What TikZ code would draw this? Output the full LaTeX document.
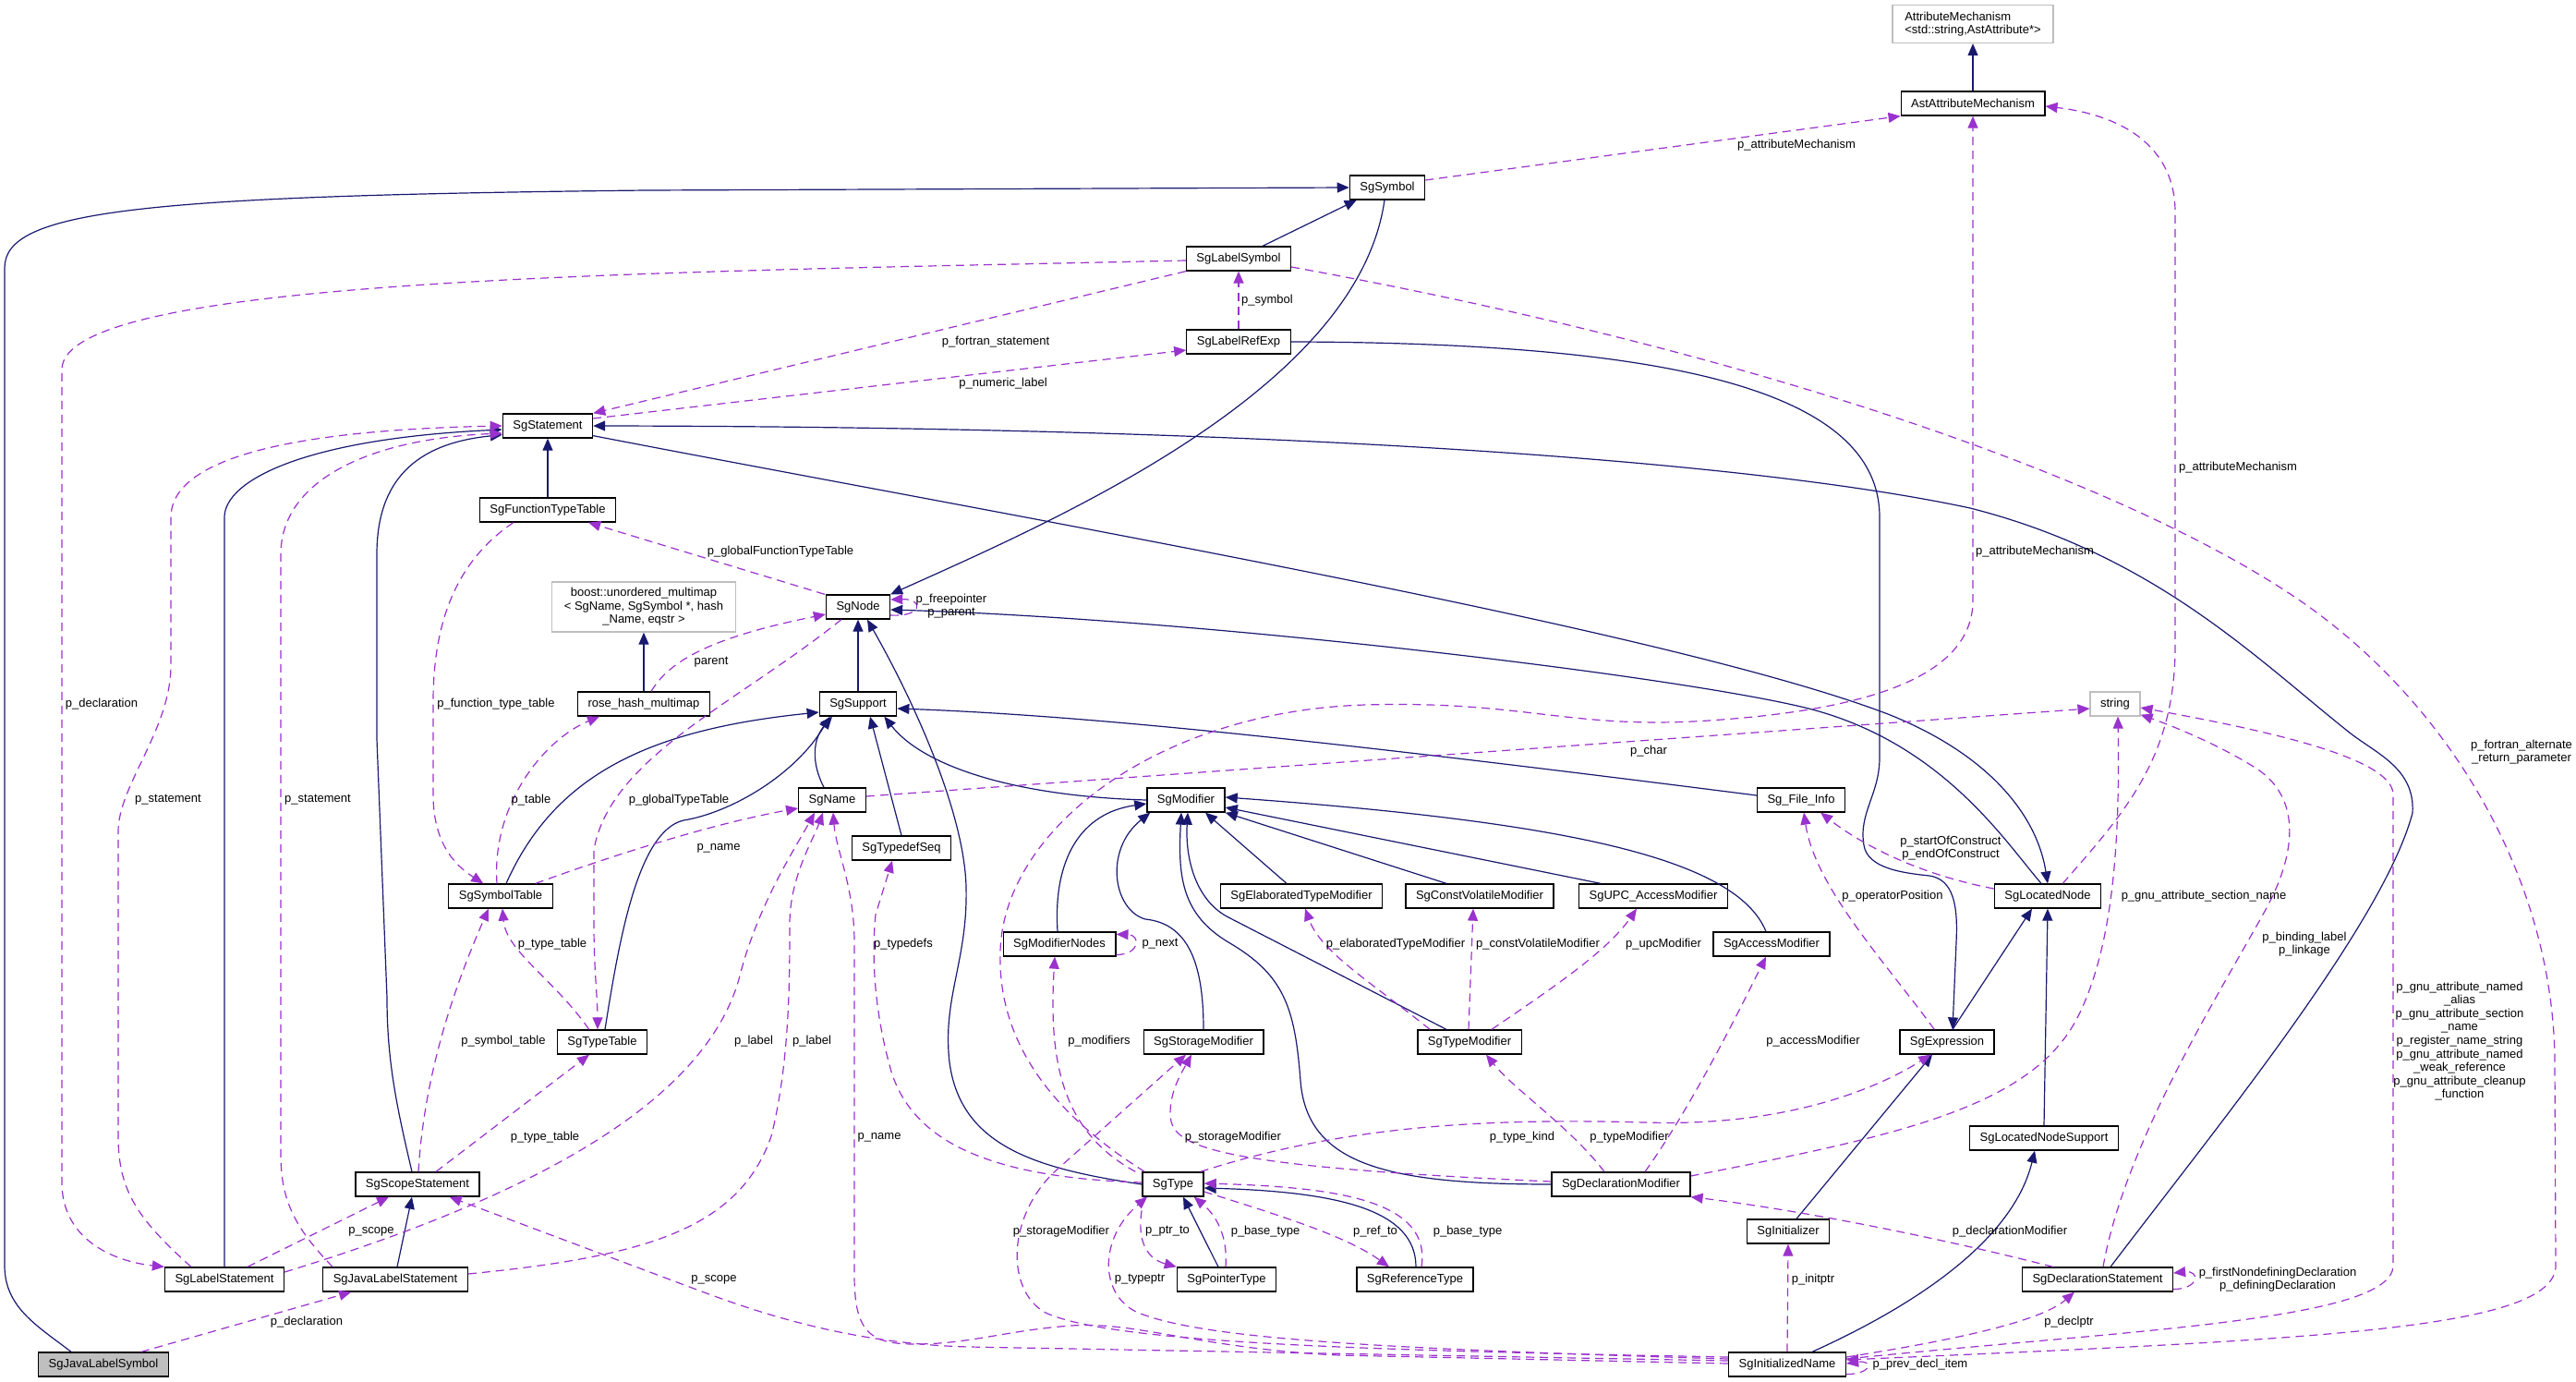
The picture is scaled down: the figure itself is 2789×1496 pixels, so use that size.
\documentclass[tikz,border=0pt]{standalone}
\usepackage{fontspec}
\setmainfont{Liberation Sans}
\usetikzlibrary{arrows.meta,calc}
\definecolor{inhblue}{HTML}{191970}
\definecolor{useorchid}{HTML}{9A32CD}
\definecolor{extgray}{HTML}{BFBFBF}
\begin{document}
\begin{tikzpicture}[x=1pt,y=-1pt,
  box/.style={draw=black, line width=1.3pt, fill=white, minimum height=26pt, inner xsep=11pt, inner ysep=2pt, font=\fontsize{13pt}{14.6pt}\selectfont},
  ext/.style={box, draw=extgray},
  lab/.style={inner sep=0pt, align=center, font=\fontsize{13pt}{14.6pt}\selectfont},
  inh/.style={draw=inhblue, line width=1.2pt, -{Triangle[length=13pt,width=11pt]}},
  use/.style={draw=useorchid, line width=1.2pt, dash pattern=on 9pt off 6pt, -{Triangle[length=13pt,width=11pt]}}]
\fill[white] (0,0) rectangle (2789,1496);
\useasboundingbox (0,0) rectangle (2789,1496);

% ---------------- nodes ----------------
\node[ext, align=left, minimum width=174pt, minimum height=41pt] (AttrMech) at (2136,26) {AttributeMechanism\\<std::string,AstAttribute*>};
\node[box] (AstAttr) at (2136,112) {AstAttributeMechanism};
\node[box] (SgSymbol) at (1502,203) {SgSymbol};
\node[box] (SgLabelSymbol) at (1341,280) {SgLabelSymbol};
\node[box] (SgLabelRefExp) at (1341,370) {SgLabelRefExp};
\node[box] (SgStatement) at (593,461) {SgStatement};
\node[box] (SgFunctionTypeTable) at (593,552) {SgFunctionTypeTable};
\node[ext, align=center, minimum width=199pt, minimum height=54pt] (boostmap) at (697,657) {boost::unordered\_multimap\\< SgName, SgSymbol *, hash\\\_Name, eqstr >};
\node[box] (SgNode) at (929,657) {SgNode};
\node[box] (rosehash) at (697,762) {rose\_hash\_multimap};
\node[box] (SgSupport) at (929,762) {SgSupport};
\node[ext] (str) at (2290,762) {string};
\node[box] (SgName) at (901,866) {SgName};
\node[box] (SgModifier) at (1284,866) {SgModifier};
\node[box] (SgFileInfo) at (1950,866) {Sg\_File\_Info};
\node[box] (SgTypedefSeq) at (976,918) {SgTypedefSeq};
\node[box] (SgSymbolTable) at (542,970) {SgSymbolTable};
\node[box] (SgElab) at (1409,970) {SgElaboratedTypeModifier};
\node[box] (SgCV) at (1602,970) {SgConstVolatileModifier};
\node[box] (SgUPC) at (1790,970) {SgUPC\_AccessModifier};
\node[box] (SgLocatedNode) at (2217,970) {SgLocatedNode};
\node[box] (SgModifierNodes) at (1147,1022) {SgModifierNodes};
\node[box] (SgAccessModifier) at (1918,1022) {SgAccessModifier};
\node[box] (SgTypeTable) at (652,1128) {SgTypeTable};
\node[box] (SgStorageModifier) at (1303,1128) {SgStorageModifier};
\node[box] (SgTypeModifier) at (1591,1128) {SgTypeModifier};
\node[box] (SgExpression) at (2108,1128) {SgExpression};
\node[box] (SgLNS) at (2213,1232) {SgLocatedNodeSupport};
\node[box] (SgScopeStatement) at (452,1282) {SgScopeStatement};
\node[box] (SgType) at (1270,1282) {SgType};
\node[box] (SgDeclMod) at (1755,1282) {SgDeclarationModifier};
\node[box] (SgInitializer) at (1936,1333) {SgInitializer};
\node[box] (SgLabelStatement) at (243,1385) {SgLabelStatement};
\node[box] (SgJavaLabelStatement) at (428,1385) {SgJavaLabelStatement};
\node[box] (SgPointerType) at (1328,1385) {SgPointerType};
\node[box] (SgReferenceType) at (1532,1385) {SgReferenceType};
\node[box] (SgDeclStmt) at (2271,1385) {SgDeclarationStatement};
\node[box, fill=extgray] (SgJavaLabelSymbol) at (112,1477) {SgJavaLabelSymbol};
\node[box] (SgInitializedName) at (1935,1477) {SgInitializedName};

% ---------------- inheritance ----------------
\draw[inh] ($(SgJavaLabelSymbol.north west)+(36,0)$) .. controls (40,1435) and (5,1415) .. (5,1370) -- (5,290) .. controls (5,228) and (150,212) .. (700,206) -- (SgSymbol.west);
\draw[inh] ($(SgLabelSymbol.north)+(26,0)$) -- ($(SgSymbol.south west)+(8,0)$);
\draw[inh] ($(SgSymbol.south)+(-3,0)$) .. controls (1470,420) and (1150,560) .. (SgNode.north east);
\draw[inh] (SgLabelRefExp.east) .. controls (1800,371) and (2035,420) .. (2035,560) -- (2035,820) .. controls (2035,860) and (2012,880) .. (2018,915) .. controls (2022,940) and (2060,945) .. (2089,948) .. controls (2115,952) and (2120,980) .. (2118,1020) -- ($(SgExpression.north)+(6,0)$);
\draw[inh] (SgFunctionTypeTable.north) -- (SgStatement.south);
\draw[inh] (SgLabelStatement.north) -- (243,560) .. controls (243,520) and (330,475) .. ($(SgStatement.west)+(0,4)$);
\draw[inh] ($(SgScopeStatement.north)+(-6,0)$) .. controls (430,1200) and (419,1150) .. (419,1080) -- (408,800) -- (408,600) .. controls (408,520) and (450,480) .. ($(SgStatement.south west)+(0,-4)$);
\draw[inh] ($(SgJavaLabelStatement.north)+(2,0)$) -- ($(SgScopeStatement.south)+(-6,0)$);
\draw[inh] ($(SgStatement.south east)+(0,-3)$) .. controls (1100,560) and (1800,680) .. (2044,773) .. controls (2150,815) and (2205,880) .. (SgLocatedNode.north);
\draw[inh] ($(SgDeclStmt.north)+(14,0)$) .. controls (2400,1220) and (2580,1000) .. (2612,880) .. controls (2615,830) and (2570,815) .. (2540,790) .. controls (2440,710) and (2330,600) .. (2133,550) .. controls (1900,500) and (1400,462) .. (SgStatement.east);
\draw[inh] (SgSupport.north) -- (SgNode.south);
\draw[inh] ($(SgLocatedNode.north)+(-7,0)$) .. controls (2170,910) and (2100,800) .. (1950,765) .. controls (1800,730) and (1300,670) .. ($(SgNode.east)+(0,3)$);
\draw[inh] (SgType.west) .. controls (1120,1265) and (1040,1240) .. (1028,1150) .. controls (1020,1080) and (1048,1040) .. (1046,960) .. controls (1044,880) and (990,760) .. ($(SgNode.south)+(10,0)$);
\draw[inh] ($(SgTypeTable.north)+(3,0)$) .. controls (670,1020) and (690,900) .. (740,888) .. controls (790,880) and (860,840) .. ($(SgSupport.south west)+(12,0)$);
\draw[inh] ($(SgSymbolTable.north)+(6,0)$) .. controls (600,840) and (700,790) .. ($(SgSupport.west)+(0,9)$);
\draw[inh] ($(SgName.north)+(-9,0)$) .. controls (878,825) and (880,800) .. ($(SgSupport.south)+(-28,0)$);
\draw[inh] (SgTypedefSeq.north) -- ($(SgSupport.south)+(13,0)$);
\draw[inh] (SgModifier.west) .. controls (1100,862) and (1000,830) .. ($(SgSupport.south east)+(-14,0)$);
\draw[inh] ($(SgFileInfo.west)+(0,-5)$) .. controls (1500,810) and (1200,775) .. ($(SgSupport.east)+(0,5)$);
\draw[inh] (rosehash.north) -- (boostmap.south);
\draw[inh] (AstAttr.north) -- (AttrMech.south);
\draw[inh] ($(SgModifierNodes.north)+(-2,0)$) .. controls (1140,930) and (1170,880) .. ($(SgModifier.west)+(0,4)$);
\draw[inh] (SgStorageModifier.north) .. controls (1303,1050) and (1290,1000) .. (1240,995) .. controls (1205,985) and (1195,920) .. ($(SgModifier.south west)+(4,0)$);
\draw[inh] ($(SgTypeModifier.north)+(-25,0)$) -- (1330,993) .. controls (1295,975) and (1283,930) .. ($(SgModifier.south)+(2,0)$);
\draw[inh] (SgDeclMod.west) .. controls (1500,1282) and (1415,1260) .. (1408,1170) .. controls (1402,1090) and (1390,1055) .. (1330,1020) .. controls (1280,990) and (1275,950) .. ($(SgModifier.south)+(-5,0)$);
\draw[inh] ($(SgElab.north)+(-16,0)$) -- ($(SgModifier.south)+(21,0)$);
\draw[inh] ($(SgCV.north)+(-36,0)$) -- (SgModifier.south east);
\draw[inh] ($(SgUPC.north)+(-57,0)$) -- ($(SgModifier.east)+(0,8)$);
\draw[inh] ($(SgAccessModifier.north)+(-6,0)$) .. controls (1880,930) and (1700,890) .. ($(SgModifier.east)+(0,-3)$);
\draw[inh] ($(SgExpression.north)+(6,0)$) -- ($(SgLocatedNode.south)+(-17,0)$);
\draw[inh] (SgLNS.north) -- (SgLocatedNode.south);
\draw[inh] ($(SgInitializer.north)+(9,0)$) -- ($(SgExpression.south)+(-16,0)$);
\draw[inh] ($(SgInitializedName.north)+(27,0)$) .. controls (2080,1410) and (2180,1340) .. ($(SgLNS.south)+(-10,0)$);
\draw[inh] ($(SgPointerType.north)+(-9,0)$) -- ($(SgType.south)+(11,0)$);
\draw[inh] ($(SgReferenceType.north)+(1,0)$) .. controls (1533,1310) and (1450,1290) .. ($(SgType.east)+(0,4)$);

% ---------------- usage (dashed) ----------------
\draw[use] ($(SgSymbol.east)+(0,-8)$) -- (AstAttr.south west);
\draw[use] (SgLabelSymbol.south west) -- (SgStatement.north east);
\draw[use] ($(SgStatement.east)+(0,-8)$) -- ($(SgLabelRefExp.west)+(0,9)$);
\draw[use] (SgLabelRefExp.north) -- (SgLabelSymbol.south);
\draw[use] ($(SgLabelSymbol.west)+(0,2)$) .. controls (700,295) and (67,300) .. (67,400) -- (67,1280) .. controls (67,1340) and (120,1365) .. (SgLabelStatement.north west);
\draw[use] ($(SgLabelSymbol.east)+(0,9)$) .. controls (1900,380) and (2300,520) .. (2490,650) .. controls (2650,760) and (2765,950) .. (2766,1150) -- (2767,1370) .. controls (2767,1440) and (2500,1450) .. ($(SgInitializedName.east)+(0,-5)$);
\draw[use] ($(SgLabelStatement.north west)+(29,0)$) .. controls (150,1320) and (128,1290) .. (128,1230) -- (128,900) .. controls (128,850) and (185,790) .. (185,720) -- (185,560) .. controls (185,500) and (300,466) .. (SgStatement.west);
\draw[use] ($(SgJavaLabelStatement.north west)+(11,0)$) .. controls (320,1330) and (304,1300) .. (304,1250) -- (304,600) .. controls (304,520) and (400,475) .. ($(SgStatement.west)+(0,8)$);
\draw[use] ($(SgFunctionTypeTable.south west)+(37,0)$) .. controls (490,610) and (469,680) .. (469,760) -- (469,860) .. controls (469,910) and (490,935) .. ($(SgSymbolTable.north west)+(38,0)$);
\draw[use] ($(SgNode.north west)+(-1,0)$) -- ($(SgFunctionTypeTable.south east)+(-30,0)$);
\draw[use] ($(SgNode.east)+(0,9)$) .. controls (1000,668) and (1000,648) .. ($(SgNode.east)+(0,-8)$);
\draw[use] ($(rosehash.north)+(8,0)$) .. controls (725,715) and (770,690) .. ($(SgNode.west)+(0,8)$);
\draw[use] ($(SgNode.south west)+(17,0)$) .. controls (800,760) and (660,820) .. (643,920) -- (643,1000) .. controls (643,1050) and (647,1080) .. ($(SgTypeTable.north)+(-5,0)$);
\draw[use] ($(SgSymbolTable.north)+(-4,0)$) .. controls (532,870) and (590,800) .. ($(rosehash.south west)+(24,0)$);
\draw[use] ($(SgSymbolTable.north east)+(-19,0)$) .. controls (680,920) and (780,890) .. ($(SgName.west)+(0,9)$);
\draw[use] ($(SgName.east)+(0,-4)$) -- ($(str.west)+(0,5)$);
\draw[use] ($(SgTypeTable.north west)+(35,0)$) .. controls (600,1060) and (548,1030) .. ($(SgSymbolTable.south)+(2,0)$);
\draw[use] ($(SgScopeStatement.north)+(1,0)$) .. controls (460,1150) and (500,1050) .. ($(SgSymbolTable.south)+(-13,0)$);
\draw[use] ($(SgScopeStatement.north)+(20,0)$) -- ($(SgTypeTable.south)+(-14,0)$);
\draw[use] ($(SgLabelStatement.north)+(25,0)$) -- ($(SgScopeStatement.south)+(-31,0)$);
\draw[use] ($(SgLabelStatement.east)+(0,-8)$) .. controls (560,1300) and (760,1200) .. (800,1060) .. controls (820,980) and (860,920) .. ($(SgName.south)+(-19,0)$);
\draw[use] ($(SgJavaLabelStatement.east)+(0,-6)$) .. controls (700,1360) and (800,1330) .. (835,1230) .. controls (855,1150) and (855,1060) .. (855,1000) .. controls (855,950) and (880,910) .. ($(SgName.south)+(-10,0)$);
\draw[use] ($(SgJavaLabelSymbol.north east)+(-30,0)$) -- ($(SgJavaLabelStatement.south west)+(31,0)$);
\draw[use] ($(SgInitializedName.west)+(0,-4)$) -- (1050,1458) .. controls (920,1455) and (820,1420) .. (765,1400) -- ($(SgScopeStatement.south east)+(-33,0)$);
\draw[use] ($(SgInitializedName.west)+(0,-1)$) -- (1450,1467) .. controls (1300,1460) and (1230,1430) .. (1160,1435) .. controls (1090,1440) and (1050,1455) .. (990,1455) .. controls (940,1455) and (925,1440) .. (925,1380) -- (925,1020) .. controls (925,960) and (905,920) .. ($(SgName.south)+(1,0)$);
\draw[use] ($(SgInitializedName.west)+(0,-6)$) .. controls (1500,1460) and (1300,1450) .. (1230,1420) .. controls (1190,1400) and (1190,1340) .. ($(SgType.south)+(-28,0)$);
\draw[use] ($(SgInitializedName.west)+(0,-8)$) .. controls (1500,1462) and (1200,1455) .. (1130,1420) .. controls (1090,1395) and (1090,1320) .. (1140,1270) -- ($(SgStorageModifier.south)+(-19,0)$);
\draw[use] ($(SgDeclMod.west)+(0,-3)$) .. controls (1300,1262) and (1267,1240) .. (1267,1205) .. controls (1267,1180) and (1280,1160) .. ($(SgStorageModifier.south)+(-13,0)$);
\draw[use] ($(SgType.north west)+(-7,0)$) .. controls (1150,1225) and (1135,1150) .. ($(SgModifierNodes.south)+(-5,0)$);
\draw[use] ($(SgModifierNodes.south east)+(0,-2)$) .. controls (1235,1033) and (1235,1012) .. ($(SgModifierNodes.north east)+(0,3)$);
\draw[use] ($(SgType.west)+(0,-2)$) .. controls (1080,1275) and (990,1240) .. (965,1160) .. controls (945,1090) and (944,1030) .. (948,990) -- ($(SgTypedefSeq.south)+(-10,0)$);
\draw[use] ($(SgType.north east)+(-4,0)$) .. controls (1450,1220) and (1600,1210) .. (1780,1215) .. controls (1930,1220) and (2030,1180) .. ($(SgExpression.south west)+(34,0)$);
\draw[use] ($(SgType.north west)+(3,0)$) .. controls (1130,1200) and (1080,1120) .. (1083,1030) .. controls (1086,900) and (1250,770) .. (1478,763) .. controls (1650,758) and (1700,790) .. (1850,780) .. controls (2000,770) and (2136,740) .. (2136,650) -- (AstAttr.south);
\draw[use] ($(SgLocatedNode.north east)+(-42,0)$) .. controls (2300,880) and (2355,820) .. (2355,700) -- (2355,230) .. controls (2355,160) and (2300,125) .. ($(AstAttr.east)+(0,3)$);
\draw[use] ($(SgLocatedNode.west)+(0,-8)$) .. controls (2070,945) and (2010,910) .. ($(SgFileInfo.south east)+(-27,0)$);
\draw[use] ($(SgExpression.north west)+(38,0)$) .. controls (2040,1040) and (1965,960) .. ($(SgFileInfo.south)+(3,0)$);
\draw[use] ($(SgDeclMod.east)+(0,-9)$) .. controls (2050,1230) and (2200,1200) .. (2250,1100) .. controls (2290,1020) and (2295,900) .. ($(str.south)+(3,0)$);
\draw[use] ($(SgDeclMod.north)+(-18,0)$) .. controls (1700,1220) and (1640,1180) .. ($(SgTypeModifier.south)+(18,0)$);
\draw[use] ($(SgDeclMod.north)+(26,0)$) .. controls (1830,1200) and (1880,1100) .. ($(SgAccessModifier.south)+(-6,0)$);
\draw[use] ($(SgTypeModifier.north west)+(14,0)$) .. controls (1480,1060) and (1430,1030) .. ($(SgElab.south)+(4,0)$);
\draw[use] ($(SgTypeModifier.north)+(-1,0)$) -- ($(SgCV.south)+(-7,0)$);
\draw[use] ($(SgTypeModifier.north)+(24,0)$) .. controls (1680,1070) and (1740,1030) .. ($(SgUPC.south)+(-18,0)$);
\draw[use] ($(SgType.south)+(-31,0)$) .. controls (1228,1340) and (1240,1362) .. (SgPointerType.north west);
\draw[use] ($(SgPointerType.north)+(-1,0)$) .. controls (1330,1330) and (1310,1310) .. ($(SgType.south east)+(-11,0)$);
\draw[use] ($(SgType.east)+(0,8)$) .. controls (1400,1320) and (1460,1340) .. ($(SgReferenceType.north)+(-28,0)$);
\draw[use] ($(SgReferenceType.north)+(7,0)$) .. controls (1550,1300) and (1450,1285) .. ($(SgType.east)+(0,-1)$);
\draw[use] (SgInitializedName.north) -- (SgInitializer.south);
\draw[use] ($(SgDeclStmt.north west)+(34,0)$) .. controls (2100,1340) and (1950,1310) .. (SgDeclMod.south east);
\draw[use] ($(SgDeclStmt.north)+(6,0)$) .. controls (2300,1240) and (2400,1080) .. (2450,990) .. controls (2490,920) and (2490,860) .. (2440,830) .. controls (2400,805) and (2350,785) .. ($(str.south east)+(0,-2)$);
\draw[use] ($(SgDeclStmt.south east)+(0,-3)$) .. controls (2382,1395) and (2382,1375) .. ($(SgDeclStmt.east)+(0,-7)$);
\draw[use] ($(SgInitializedName.east)+(0,-8)$) .. controls (2120,1450) and (2210,1430) .. ($(SgDeclStmt.south west)+(57,0)$);
\draw[use] ($(SgInitializedName.east)+(0,-6)$) .. controls (2300,1440) and (2591,1430) .. (2591,1370) -- (2591,860) .. controls (2591,820) and (2450,790) .. ($(str.east)+(0,4)$);
\draw[use] ($(SgInitializedName.south east)+(0,-3)$) .. controls (2028,1487) and (2028,1472) .. ($(SgInitializedName.east)+(0,-1)$);

% ---------------- labels ----------------
\node[lab] (l01) at (1945,157) {p\_attributeMechanism};
\node[lab] (l02) at (1078,370) {p\_fortran\_statement};
\node[lab] (l03) at (1086,415) {p\_numeric\_label};
\node[lab] (l04) at (1372,325) {p\_symbol};
\node[lab] (l05) at (110,762) {p\_declaration};
\node[lab] (l06) at (2730,814) {p\_fortran\_alternate\\\_return\_parameter};
\node[lab] (l07) at (182,866) {p\_statement};
\node[lab] (l08) at (344,866) {p\_statement};
\node[lab] (l09) at (537,762) {p\_function\_type\_table};
\node[lab] (l10) at (845,597) {p\_globalFunctionTypeTable};
\node[lab] (l11) at (1030,656) {p\_freepointer\\p\_parent};
\node[lab] (l12) at (770,717) {parent};
\node[lab] (l13) at (735,866) {p\_globalTypeTable};
\node[lab] (l14) at (575,866) {p\_table};
\node[lab] (l15) at (778,918) {p\_name};
\node[lab] (l16) at (1785,813) {p\_char};
\node[lab] (l17) at (598,1022) {p\_type\_table};
\node[lab] (l18) at (545,1127) {p\_symbol\_table};
\node[lab] (l19) at (590,1231) {p\_type\_table};
\node[lab] (l20) at (402,1333) {p\_scope};
\node[lab] (l21) at (816,1127) {p\_label};
\node[lab] (l22) at (879,1127) {p\_label};
\node[lab] (l23) at (332,1431) {p\_declaration};
\node[lab] (l24) at (773,1385) {p\_scope};
\node[lab] (l25) at (952,1231) {p\_name};
\node[lab] (l26) at (1234,1385) {p\_typeptr};
\node[lab] (l27) at (1149,1333) {p\_storageModifier};
\node[lab] (l28) at (1335,1231) {p\_storageModifier};
\node[lab] (l29) at (1190,1127) {p\_modifiers};
\node[lab] (l30) at (1256,1022) {p\_next};
\node[lab] (l31) at (978,1022) {p\_typedefs};
\node[lab] (l32) at (1648,1231) {p\_type\_kind};
\node[lab] (l33) at (2203,597) {p\_attributeMechanism};
\node[lab] (l34) at (2423,506) {p\_attributeMechanism};
\node[lab] (l35) at (2112,918) {p\_startOfConstruct\\p\_endOfConstruct};
\node[lab] (l36) at (2049,970) {p\_operatorPosition};
\node[lab] (l37) at (2386,970) {p\_gnu\_attribute\_section\_name};
\node[lab] (l38) at (1764,1231) {p\_typeModifier};
\node[lab] (l39) at (1963,1127) {p\_accessModifier};
\node[lab] (l40) at (1511,1022) {p\_elaboratedTypeModifier};
\node[lab] (l41) at (1665,1022) {p\_constVolatileModifier};
\node[lab] (l42) at (1801,1022) {p\_upcModifier};
\node[lab] (l43) at (1264,1333) {p\_ptr\_to};
\node[lab] (l44) at (1370,1333) {p\_base\_type};
\node[lab] (l45) at (1489,1333) {p\_ref\_to};
\node[lab] (l46) at (1589,1333) {p\_base\_type};
\node[lab] (l47) at (1963,1385) {p\_initptr};
\node[lab] (l48) at (2176,1333) {p\_declarationModifier};
\node[lab] (l49) at (2495,1022) {p\_binding\_label\\p\_linkage};
\node[lab] (l50) at (2466,1385) {p\_firstNondefiningDeclaration\\p\_definingDeclaration};
\node[lab] (l51) at (2240,1431) {p\_declptr};
\node[lab] (l52) at (2663,1127) {p\_gnu\_attribute\_named\\\_alias\\p\_gnu\_attribute\_section\\\_name\\p\_register\_name\_string\\p\_gnu\_attribute\_named\\\_weak\_reference\\p\_gnu\_attribute\_cleanup\\\_function};
\node[lab] (l53) at (2079,1477) {p\_prev\_decl\_item};
\end{tikzpicture}
\end{document}
